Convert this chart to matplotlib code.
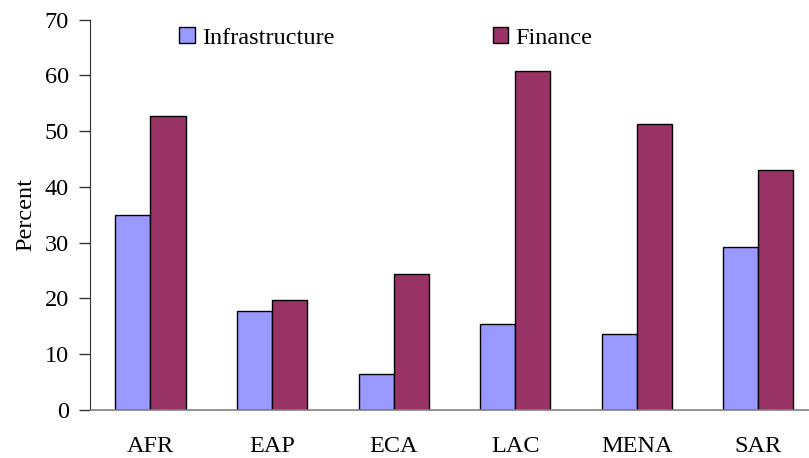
import matplotlib.pyplot as plt
import numpy as np

plt.rcParams["font.family"] = ["Liberation Serif", "DejaVu Serif"]

regions = ["AFR", "EAP", "ECA", "LAC", "MENA", "SAR"]
infrastructure = [34.9, 17.8, 6.35, 15.4, 13.65, 29.25]
finance = [52.7, 19.75, 24.4, 60.85, 51.35, 42.95]
y_ticks = [0, 10, 20, 30, 40, 50, 60, 70]

fs = 17.5

fig = plt.figure(figsize=(8.09, 4.58), dpi=100)
# axes runs slightly past the right edge, as in the original export
ax = fig.add_axes([0.1109, 0.1055, 0.9015, 0.8515])

x = np.arange(len(regions))
w = 0.288
ax.bar(x - w / 2, infrastructure, w, color="#9999FF", edgecolor="black",
       linewidth=1.0, label="Infrastructure")
ax.bar(x + w / 2, finance, w, color="#993366", edgecolor="black",
       linewidth=1.0, label="Finance")

ax.set_xlim(-0.5, len(regions) - 0.5)
ax.set_ylim(0, 70)
ax.set_yticks(y_ticks)
ax.set_xticks(x)
ax.set_xticklabels(regions)

for s in ["top", "right"]:
    ax.spines[s].set_visible(False)
ax.spines["left"].set_color("#333333")
ax.spines["bottom"].set_color("#808080")
ax.spines["bottom"].set_linewidth(1.2)

ax.tick_params(axis="y", direction="out", length=8, width=1.0,
               color="#333333", pad=7, labelsize=fs)
ax.tick_params(axis="x", length=0, pad=19, labelsize=fs)

ax.set_ylabel("Percent", fontsize=fs, labelpad=6)

ax.legend(loc="center left", bbox_to_anchor=(0.1225, 0.953), ncol=2,
          frameon=False, fontsize=fs, handlelength=0.65, handleheight=0.65,
          handletextpad=0.3, columnspacing=6.5, borderaxespad=0,
          borderpad=0)

fig.savefig("out.png", dpi=100)
